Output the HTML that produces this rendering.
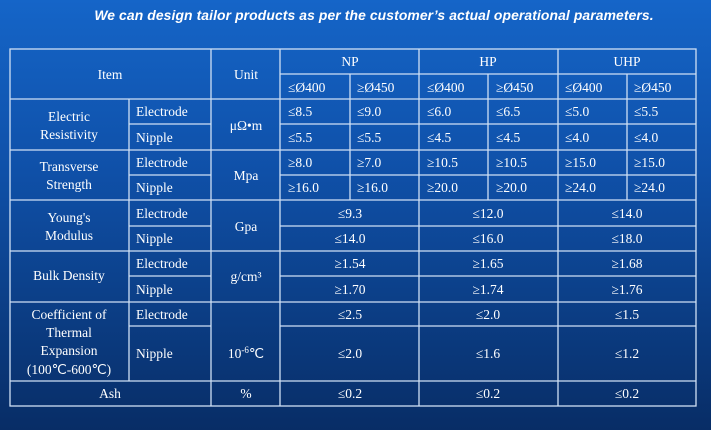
<!DOCTYPE html>
<html><head><meta charset="utf-8"><style>
html,body{margin:0;padding:0;width:711px;height:430px;overflow:hidden}
body{background:linear-gradient(180deg,#1565c8 0%,#0f50a8 40%,#0b3c82 75%,#082d66 100%)}
svg{position:absolute;left:0;top:0}
.t{font-family:"Liberation Serif",serif;font-size:13.5px;fill:#fff}
.s{font-family:"Liberation Sans",sans-serif;font-size:13.9px;font-weight:bold;font-style:italic;fill:#fff;letter-spacing:0.1px}
line{stroke:#cfe0f5;stroke-width:1.3}
</style></head><body>
<svg width="711" height="430" viewBox="0 0 711 430">
<text class="s" x="374" y="20" text-anchor="middle">We can design tailor products as per the customer’s actual operational parameters.</text>
<g>
<rect x="10" y="49" width="686" height="357" fill="none" stroke="#cfe0f5" stroke-width="1.3"/>
<line x1="280" y1="74" x2="696" y2="74"/>
<line x1="10" y1="99" x2="696" y2="99"/>
<line x1="129" y1="124" x2="211" y2="124"/><line x1="280" y1="124" x2="696" y2="124"/>
<line x1="10" y1="150" x2="696" y2="150"/>
<line x1="129" y1="175" x2="211" y2="175"/><line x1="280" y1="175" x2="696" y2="175"/>
<line x1="10" y1="200" x2="696" y2="200"/>
<line x1="129" y1="226" x2="211" y2="226"/><line x1="280" y1="226" x2="696" y2="226"/>
<line x1="10" y1="251" x2="696" y2="251"/>
<line x1="129" y1="276" x2="211" y2="276"/><line x1="280" y1="276" x2="696" y2="276"/>
<line x1="10" y1="302" x2="696" y2="302"/>
<line x1="129" y1="326" x2="211" y2="326"/><line x1="280" y1="326" x2="696" y2="326"/>
<line x1="10" y1="381" x2="696" y2="381"/>
<line x1="129" y1="99" x2="129" y2="381"/>
<line x1="211" y1="49" x2="211" y2="406"/>
<line x1="280" y1="49" x2="280" y2="406"/>
<line x1="419" y1="49" x2="419" y2="406"/>
<line x1="558" y1="49" x2="558" y2="406"/>
<line x1="350" y1="74" x2="350" y2="200"/>
<line x1="488" y1="74" x2="488" y2="200"/>
<line x1="627" y1="74" x2="627" y2="200"/>
</g>
<g class="t">
<text x="110" y="79" text-anchor="middle">Item</text>
<text x="246" y="79" text-anchor="middle">Unit</text>
<text x="350" y="66" text-anchor="middle">NP</text>
<text x="488" y="66" text-anchor="middle">HP</text>
<text x="627" y="66" text-anchor="middle">UHP</text>
<text x="288" y="92">≤Ø400</text><text x="357" y="92">≥Ø450</text>
<text x="427" y="92">≤Ø400</text><text x="496" y="92">≥Ø450</text>
<text x="565" y="92">≤Ø400</text><text x="634" y="92">≥Ø450</text>

<text x="69" y="121" text-anchor="middle">Electric</text>
<text x="69" y="139" text-anchor="middle">Resistivity</text>
<text x="136" y="116">Electrode</text><text x="136" y="142">Nipple</text>
<text x="246" y="130" text-anchor="middle">μΩ•m</text>
<text x="288" y="116">≤8.5</text><text x="357" y="116">≤9.0</text><text x="427" y="116">≤6.0</text><text x="496" y="116">≤6.5</text><text x="565" y="116">≤5.0</text><text x="634" y="116">≤5.5</text>
<text x="288" y="142">≤5.5</text><text x="357" y="142">≤5.5</text><text x="427" y="142">≤4.5</text><text x="496" y="142">≤4.5</text><text x="565" y="142">≤4.0</text><text x="634" y="142">≤4.0</text>

<text x="69" y="171" text-anchor="middle">Transverse</text>
<text x="69" y="189" text-anchor="middle">Strength</text>
<text x="136" y="167">Electrode</text><text x="136" y="192">Nipple</text>
<text x="246" y="180" text-anchor="middle">Mpa</text>
<text x="288" y="167">≥8.0</text><text x="357" y="167">≥7.0</text><text x="427" y="167">≥10.5</text><text x="496" y="167">≥10.5</text><text x="565" y="167">≥15.0</text><text x="634" y="167">≥15.0</text>
<text x="288" y="192">≥16.0</text><text x="357" y="192">≥16.0</text><text x="427" y="192">≥20.0</text><text x="496" y="192">≥20.0</text><text x="565" y="192">≥24.0</text><text x="634" y="192">≥24.0</text>

<text x="69" y="222" text-anchor="middle">Young's</text>
<text x="69" y="240" text-anchor="middle">Modulus</text>
<text x="136" y="218">Electrode</text><text x="136" y="243">Nipple</text>
<text x="246" y="231" text-anchor="middle">Gpa</text>
<text x="350" y="218" text-anchor="middle">≤9.3</text><text x="488" y="218" text-anchor="middle">≤12.0</text><text x="627" y="218" text-anchor="middle">≤14.0</text>
<text x="350" y="243" text-anchor="middle">≤14.0</text><text x="488" y="243" text-anchor="middle">≤16.0</text><text x="627" y="243" text-anchor="middle">≤18.0</text>

<text x="69" y="280" text-anchor="middle">Bulk Density</text>
<text x="136" y="268">Electrode</text><text x="136" y="294">Nipple</text>
<text x="246" y="281" text-anchor="middle">g/cm³</text>
<text x="350" y="268" text-anchor="middle">≥1.54</text><text x="488" y="268" text-anchor="middle">≥1.65</text><text x="627" y="268" text-anchor="middle">≥1.68</text>
<text x="350" y="294" text-anchor="middle">≥1.70</text><text x="488" y="294" text-anchor="middle">≥1.74</text><text x="627" y="294" text-anchor="middle">≥1.76</text>

<text x="69" y="319" text-anchor="middle">Coefficient  of</text>
<text x="69" y="337" text-anchor="middle">Thermal</text>
<text x="69" y="355" text-anchor="middle">Expansion</text>
<text x="69" y="374" text-anchor="middle">(100℃-600℃)</text>
<text x="136" y="319">Electrode</text><text x="136" y="358">Nipple</text>
<text x="246" y="358" text-anchor="middle">10<tspan dy="-5" font-size="9">-6</tspan><tspan dy="5">℃</tspan></text>
<text x="350" y="319" text-anchor="middle">≤2.5</text><text x="488" y="319" text-anchor="middle">≤2.0</text><text x="627" y="319" text-anchor="middle">≤1.5</text>
<text x="350" y="358" text-anchor="middle">≤2.0</text><text x="488" y="358" text-anchor="middle">≤1.6</text><text x="627" y="358" text-anchor="middle">≤1.2</text>

<text x="110" y="398" text-anchor="middle">Ash</text>
<text x="246" y="398" text-anchor="middle">%</text>
<text x="350" y="398" text-anchor="middle">≤0.2</text><text x="488" y="398" text-anchor="middle">≤0.2</text><text x="627" y="398" text-anchor="middle">≤0.2</text>
</g>
</svg>
</body></html>
